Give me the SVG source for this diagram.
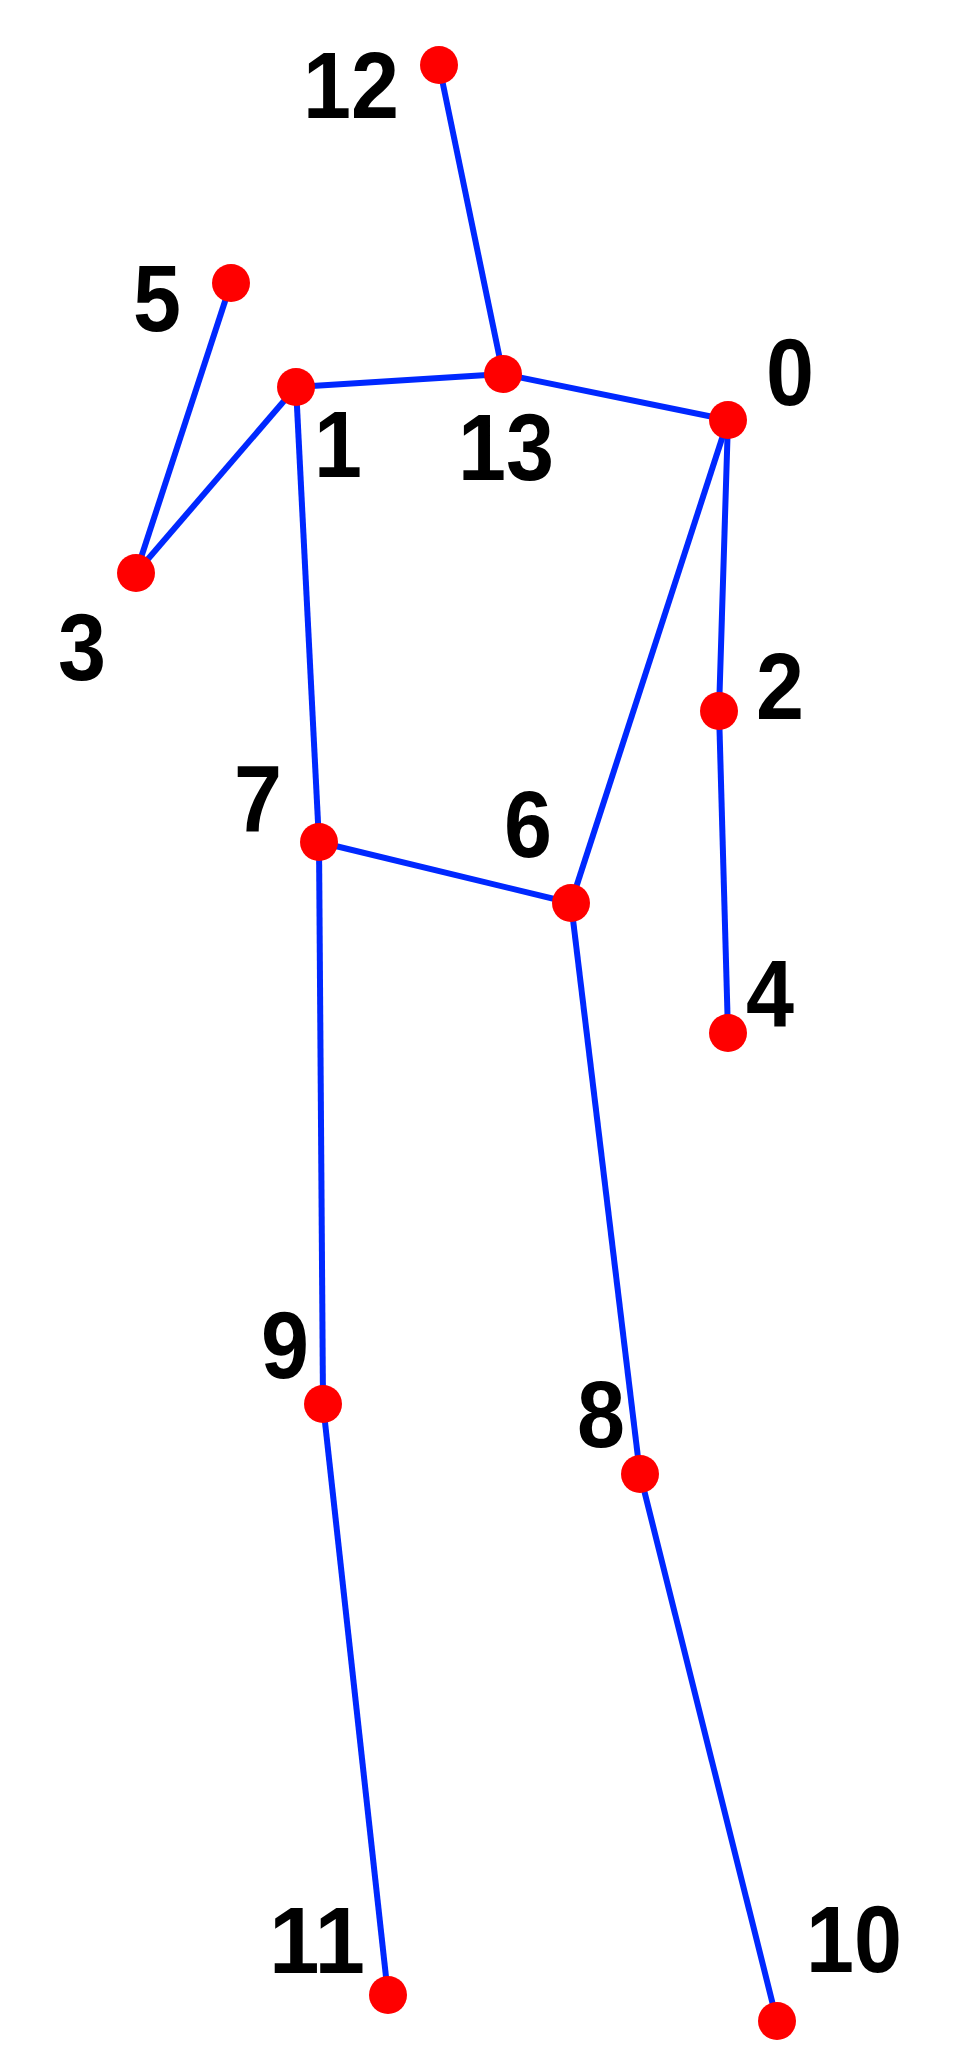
<svg xmlns="http://www.w3.org/2000/svg" width="962" height="2048" viewBox="0 0 962 2048">
<style>
.edge{stroke:#0028FF;stroke-width:6;fill:none}
.pt{fill:#FF0000}
.lbl{font-family:"Liberation Sans",Arial,sans-serif;font-weight:bold;font-size:94px;fill:#000;text-anchor:middle}
</style>
<rect width="962" height="2048" fill="#fff"/>
<g id="connectors">
<line class="edge" x1="439" y1="65" x2="503" y2="374"/>
<line class="edge" x1="231" y1="283" x2="136" y2="573"/>
<line class="edge" x1="136" y1="573" x2="296" y2="387"/>
<line class="edge" x1="296" y1="387" x2="503" y2="374"/>
<line class="edge" x1="503" y1="374" x2="728" y2="420"/>
<line class="edge" x1="296" y1="387" x2="319" y2="842"/>
<line class="edge" x1="728" y1="420" x2="571" y2="903"/>
<line class="edge" x1="728" y1="420" x2="719" y2="711"/>
<line class="edge" x1="719" y1="711" x2="728" y2="1033"/>
<line class="edge" x1="319" y1="842" x2="571" y2="903"/>
<line class="edge" x1="319" y1="842" x2="323" y2="1404"/>
<line class="edge" x1="571" y1="903" x2="640" y2="1474"/>
<line class="edge" x1="323" y1="1404" x2="388" y2="1995"/>
<line class="edge" x1="640" y1="1474" x2="777" y2="2021"/>
</g>
<g id="node0"><circle class="pt" cx="728" cy="420" r="19"/><text class="lbl" x="790" y="405" textLength="48" lengthAdjust="spacingAndGlyphs">0</text></g>
<g id="node1"><circle class="pt" cx="296" cy="387" r="19"/><text class="lbl" x="338" y="477" textLength="48" lengthAdjust="spacingAndGlyphs">1</text></g>
<g id="node2"><circle class="pt" cx="719" cy="711" r="19"/><text class="lbl" x="780" y="719" textLength="48" lengthAdjust="spacingAndGlyphs">2</text></g>
<g id="node3"><circle class="pt" cx="136" cy="573" r="19"/><text class="lbl" x="82" y="680" textLength="48" lengthAdjust="spacingAndGlyphs">3</text></g>
<g id="node4"><circle class="pt" cx="728" cy="1033" r="19"/><text class="lbl" x="770" y="1026" textLength="48" lengthAdjust="spacingAndGlyphs">4</text></g>
<g id="node5"><circle class="pt" cx="231" cy="283" r="19"/><text class="lbl" x="157" y="331" textLength="48" lengthAdjust="spacingAndGlyphs">5</text></g>
<g id="node6"><circle class="pt" cx="571" cy="903" r="19"/><text class="lbl" x="528" y="857" textLength="48" lengthAdjust="spacingAndGlyphs">6</text></g>
<g id="node7"><circle class="pt" cx="319" cy="842" r="19"/><text class="lbl" x="258" y="832" textLength="48" lengthAdjust="spacingAndGlyphs">7</text></g>
<g id="node8"><circle class="pt" cx="640" cy="1474" r="19"/><text class="lbl" x="601" y="1447" textLength="48" lengthAdjust="spacingAndGlyphs">8</text></g>
<g id="node9"><circle class="pt" cx="323" cy="1404" r="19"/><text class="lbl" x="285" y="1378" textLength="48" lengthAdjust="spacingAndGlyphs">9</text></g>
<g id="node10"><circle class="pt" cx="777" cy="2021" r="19"/><text class="lbl" x="854" y="1972" textLength="96" lengthAdjust="spacingAndGlyphs">10</text></g>
<g id="node11"><circle class="pt" cx="388" cy="1995" r="19"/><text class="lbl" x="317" y="1973" textLength="96" lengthAdjust="spacingAndGlyphs">11</text></g>
<g id="node12"><circle class="pt" cx="439" cy="65" r="19"/><text class="lbl" x="351" y="118" textLength="96" lengthAdjust="spacingAndGlyphs">12</text></g>
<g id="node13"><circle class="pt" cx="503" cy="374" r="19"/><text class="lbl" x="506" y="480" textLength="96" lengthAdjust="spacingAndGlyphs">13</text></g>
</svg>
